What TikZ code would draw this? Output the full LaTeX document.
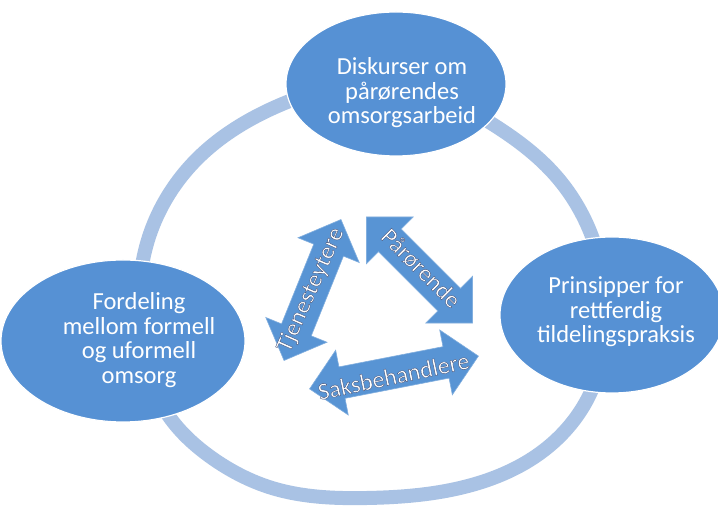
\documentclass[tikz,border=0pt]{standalone}
\usepackage{fontspec}
\setmainfont{Carlito}
\usetikzlibrary{shapes.geometric,hobby}

\definecolor{nodeblue}{RGB}{86,145,212}
\definecolor{ringblue}{RGB}{169,194,228}
\definecolor{arrowblue}{RGB}{88,148,212}

% white letters with a thin dark edge
\newcommand{\edgedtext}[1]{\special{pdf:literal direct 2 Tr 0.35 w 0.25 0.30 0.45 RG}#1\special{pdf:literal direct 0 Tr}}

% double-headed block arrow: centre, angle, tip-to-tip length
\newcommand{\duoarrow}[3]{%
  \begin{scope}[shift={#1}, rotate=#2]
    \path[cyclearrow] (-#3/2,0) -- ++(33,33) -- ++(0,-17) -- (#3/2-33,16)
      -- ++(0,17) -- (#3/2,0) -- ++(-33,-33) -- ++(0,17) -- (-#3/2+33,-16)
      -- ++(0,-17) -- cycle;
  \end{scope}}

\tikzset{
  topic/.style={ellipse, fill=nodeblue, draw=white, line width=1.2pt, inner sep=0pt},
  topictext/.style={text=white, align=center, inner sep=0pt,
    font=\fontsize{24.5}{24.5}\selectfont},
  cyclearrow/.style={fill=arrowblue, draw=arrowblue!75!white, line width=0.6pt},
  arrowlabel/.style={text=white, inner sep=0pt, font=\fontsize{24}{24}\selectfont},
  ring/.style={draw=ringblue, line width=14pt},
}

\begin{document}
\begin{tikzpicture}[x=1pt,y=1pt]
\useasboundingbox (0,0) rectangle (718,508);
\fill[white] (0,0) rectangle (718,508);

% the cycle ring behind the three topics
\draw[ring, use Hobby shortcut, closed=true]
  (385,424) .. (497,381) .. (556,332) .. (594,266) .. (606,196) .. (590,114)
  .. (543,57) .. (468,22) .. (367,10) .. (272,20) .. (212,50) .. (166,96)
  .. (140,180) .. (148,268) .. (198,350) .. (280,403);

% topics
\node[topic, minimum width=220pt, minimum height=144pt] (diskurs) at (396,424) {};
\node[topictext] (diskurstxt) at (402,415) {Diskurser om\\pårørendes\\omsorgsarbeid};

\node[topic, minimum width=244pt, minimum height=162pt] (fordeling) at (123,167) {};
\node[topictext] (fordelingtxt) at (139,168) {Fordeling\\mellom formell\\og uformell\\omsorg};

\node[topic, minimum width=224pt, minimum height=156pt] (prinsipp) at (612,193) {};
\node[topictext] (prinsipptxt) at (616,196) {Prinsipper for\\rettferdig\\tildelingspraksis};

% the three actors as double arrows
\duoarrow{(312.5,218)}{68}{152}
\node[arrowlabel, rotate=66] (tjeneste) at (311,218) {\edgedtext{Tjenesteytere}};

\duoarrow{(419.5,238)}{-45}{150}
\node[arrowlabel, rotate=-45] (parorende) at (421,240) {\edgedtext{Pårørende}};

\duoarrow{(394,135.5)}{11}{172}
\node[arrowlabel, rotate=12] (saksbeh) at (393.5,132) {\edgedtext{Saksbehandlere}};
\end{tikzpicture}
\end{document}
